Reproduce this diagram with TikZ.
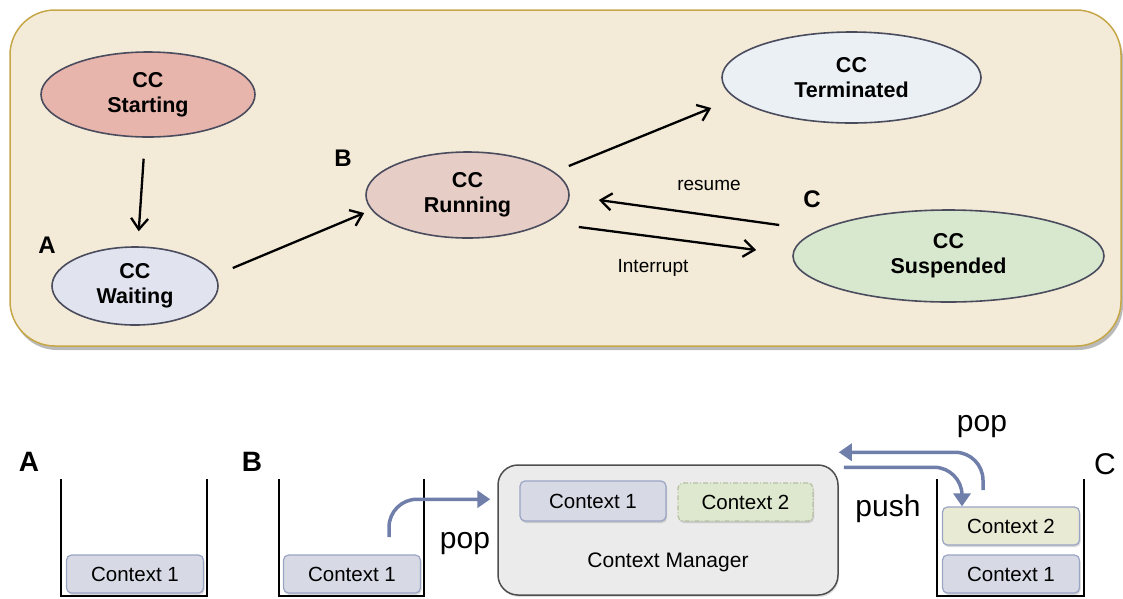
\documentclass[tikz,border=0pt]{standalone}
\usepackage{fontspec}
\setmainfont{Liberation Sans}
\usetikzlibrary{shapes.geometric,arrows.meta,shadows}

\definecolor{panel}{HTML}{F3EBD8}
\definecolor{panelrim}{HTML}{C6A748}
\definecolor{rim}{HTML}{4A4C5E}
\definecolor{cstart}{HTML}{E8B5AD}
\definecolor{cwait}{HTML}{E1E4EE}
\definecolor{crun}{HTML}{E6CDC6}
\definecolor{cterm}{HTML}{EBF0F5}
\definecolor{csusp}{HTML}{D7E8CF}
\definecolor{ctxone}{HTML}{D7DAE5}
\definecolor{ctxrim}{HTML}{9AA4C4}
\definecolor{ctxtwo}{HTML}{E8EAD4}
\definecolor{ctxtwob}{HTML}{DEE8CE}
\definecolor{ctxtworim}{HTML}{B5C0A2}
\definecolor{flow}{HTML}{6F7FAA}
\definecolor{mgr}{HTML}{EBEBEB}
\definecolor{mgrrim}{HTML}{4E4E4E}

\begin{document}
\begin{tikzpicture}[x=1pt,y=-1pt,
  state/.style={ellipse, draw=rim, line width=1.6pt, inner sep=0pt, align=center,
    font=\bfseries\fontsize{21.5}{25}\selectfont},
  trans/.style={draw=black, line width=2.3pt,
    -{Straight Barb[length=11pt,width=17pt,line width=2.3pt]}},
  tag/.style={font=\bfseries\fontsize{24}{28}\selectfont, inner sep=0pt},
  bigtag/.style={font=\bfseries\fontsize{28}{32}\selectfont, inner sep=0pt},
  note/.style={font=\fontsize{19}{23}\selectfont, inner sep=0pt},
  opname/.style={font=\fontsize{30}{34}\selectfont, inner sep=0pt},
  ctx/.style={rectangle, rounded corners=5pt, draw=ctxrim, line width=1.2pt, fill=ctxone,
    minimum width=137pt, minimum height=38pt, inner sep=0pt,
    font=\fontsize{20.5}{24}\selectfont,
    drop shadow={shadow xshift=1pt, shadow yshift=-2pt, opacity=0.3}},
  stackwall/.style={draw=black, line width=2.5pt, line join=miter},
  flowarr/.style={draw=flow, line width=3.5pt, rounded corners=28pt,
    -{Triangle[length=13pt,width=17pt]}}
]
\useasboundingbox (0,0) rectangle (1123,598);

% state machine panel
\node[rectangle, rounded corners=45pt, draw=panelrim, line width=1.5pt, fill=panel,
  minimum width=1111pt, minimum height=336pt,
  drop shadow={shadow xshift=2pt, shadow yshift=-4pt, opacity=0.45, fill=black!60}]
  (panel) at (565.5,178) {};

\node[state, fill=cstart, minimum width=214pt, minimum height=85pt] (start) at (148,94.5) {CC\\Starting};
\node[state, fill=cwait,  minimum width=166pt, minimum height=78pt] (wait)  at (135,286)  {CC\\Waiting};
\node[state, fill=crun,   minimum width=203pt, minimum height=86pt] (run)   at (467.5,195) {CC\\Running};
\node[state, fill=cterm,  minimum width=259pt, minimum height=91pt] (term)  at (851.5,77.5) {CC\\Terminated};
\node[state, fill=csusp,  minimum width=311pt, minimum height=92pt] (susp)  at (948.5,256) {CC\\Suspended};

\node[tag] (tA) at (47,245) {A};
\node[tag] (tB) at (343,158) {B};
\node[tag] (tC) at (812,199) {C};

\draw[trans, shorten <=21pt, shorten >=15pt] (start) -- (wait);
\draw[trans] ([shift={(14,-18)}]wait.east) -- ([shift={(-1,18)}]run.west);
\draw[trans] ([shift={(-1,-29)}]run.east) -- ([shift={(-10,30.5)}]term.west);
\draw[trans] ([shift={(-13,-31)}]susp.west) -- ([shift={(29,5)}]run.east);
\draw[trans] ([shift={(9,32)}]run.east) -- ([shift={(-36,-6)}]susp.west);

\node[note] (resume) at (709,185) {resume};
\node[note] (intr) at (653,268) {Interrupt};

% stacks
\node[bigtag] (sA) at (29,462) {A};
\node[bigtag] (sB) at (252,462) {B};
\node[font=\fontsize{30}{34}\selectfont, inner sep=0pt] (sC) at (1105,464) {C};

\draw[stackwall] (61,479) -- (61,596) -- (207,596) -- (207,479);
\draw[stackwall] (279,479) -- (279,596) -- (424,596) -- (424,479);
\draw[stackwall] (937,479) -- (937,596) -- (1084,596) -- (1084,479);

\node[ctx] (a1) at (135,574) {Context 1};
\node[ctx] (b1) at (352,574) {Context 1};
\node[ctx] (c1) at (1011,574) {Context 1};
\node[ctx, fill=ctxtwo] (c2) at (1011,526) {Context 2};

% context manager
\node[rectangle, rounded corners=20pt, draw=mgrrim, line width=1.5pt, fill=mgr,
  minimum width=340pt, minimum height=130pt,
  drop shadow={shadow xshift=1pt, shadow yshift=-2pt, opacity=0.25}] (cm) at (668,530) {};
\node[ctx, minimum width=146pt, minimum height=40pt] (m1) at (593,501) {Context 1};
\node[ctx, fill=ctxtwob, draw=ctxtworim, minimum width=135pt,
  dash pattern=on 5pt off 2pt on 1pt off 2pt] (m2) at (745.5,502) {Context 2};
\node[font=\fontsize{21}{25}\selectfont, inner sep=0pt] (cmlabel) at (668,562) {Context Manager};

% push / pop flows
\coordinate (bsrc) at (389,537);
\coordinate (csrc) at (983,490);
\draw[flowarr] (bsrc) |- ([shift={(-7,35)}]cm.north west);
\draw[flowarr] (csrc) |- ([shift={(0,-12)}]cm.north east);
\draw[flowarr] ([shift={(5,3)}]cm.north east) -| ([shift={(-49,0)}]c2.north);

\node[opname] (popB) at (465,544) {pop};
\node[opname] (popC) at (982,427) {pop};
\node[opname] (push) at (888,509) {push};
\end{tikzpicture}
\end{document}
